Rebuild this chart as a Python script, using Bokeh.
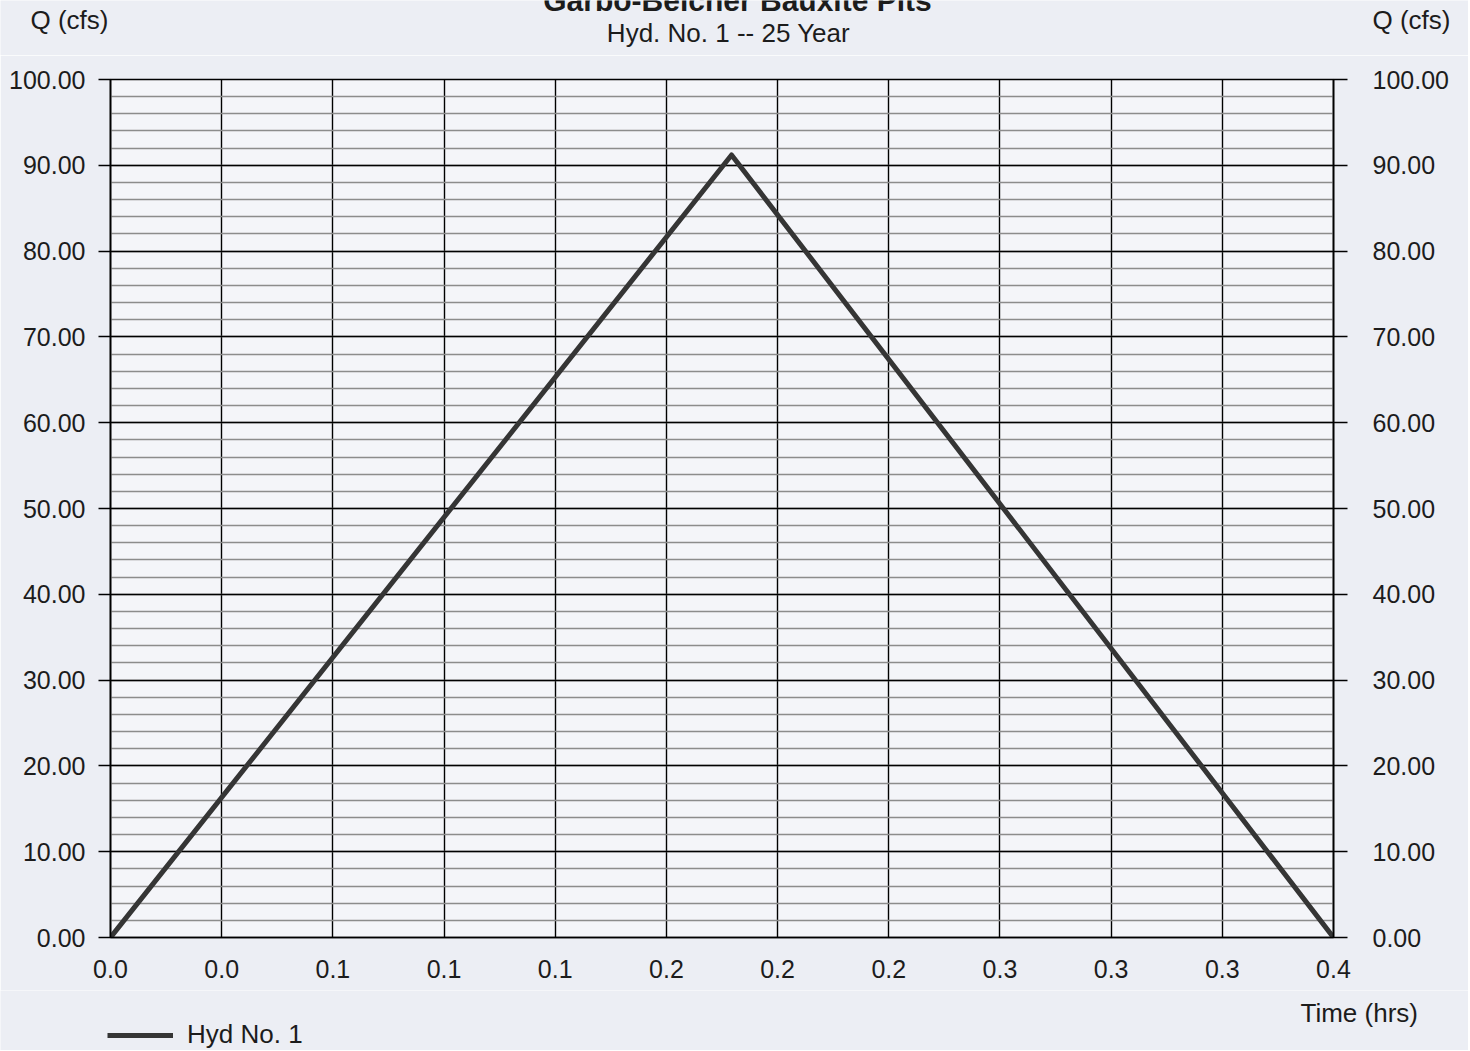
from bokeh.plotting import figure
from bokeh.layouts import column
from bokeh.models import (Range1d, LinearAxis, FixedTicker, Label, Legend, LegendItem,
                          PrintfTickFormatter, CustomJSTickFormatter)
from bokeh.embed import file_html
from bokeh.resources import INLINE

# ---- data ----
title_text = "Garbo-Belcher Bauxite Pits"
subtitle_text = "Hyd. No. 1 -- 25 Year"
series_name = "Hyd No. 1"
y_axis_title = "Q (cfs)"
x_axis_title = "Time (hrs)"

time_hrs = [0.0, 0.1862, 0.36667]
q_cfs = [0.0, 91.2, 0.0]

x_ticks = [0.0, 0.03333, 0.06667, 0.1, 0.13333, 0.16667, 0.2, 0.23333, 0.26667, 0.3, 0.33333, 0.36667]
x_tick_labels = ["0.0", "0.0", "0.1", "0.1", "0.1", "0.2", "0.2", "0.2", "0.3", "0.3", "0.3", "0.4"]
y_ticks = [0, 10, 20, 30, 40, 50, 60, 70, 80, 90, 100]
y_minor_ticks = [0, 2, 4, 6, 8, 10, 12, 14, 16, 18, 20, 22, 24, 26, 28, 30, 32, 34, 36, 38, 40,
                 42, 44, 46, 48, 50, 52, 54, 56, 58, 60, 62, 64, 66, 68, 70, 72, 74, 76, 78, 80,
                 82, 84, 86, 88, 90, 92, 94, 96, 98, 100]

FONT = "Liberation Sans"
TXT = "#1c1c1c"
FS = "25px"
PAPER = "#eceef4"
W = 1468
H_TOP, H_MAIN, H_BOT = 55, 935, 60


def strip(height):
    f = figure(width=W, height=height, output_backend="svg", toolbar_location=None, title=None,
               x_range=Range1d(0, W), y_range=Range1d(height, 0), min_border=0,
               x_axis_location=None, y_axis_location=None, frame_align=False)
    f.background_fill_color = PAPER
    f.border_fill_color = PAPER
    f.outline_line_color = None
    f.grid.visible = False
    return f


def lab(f, text, x, y, align, size="26px", style="normal"):
    f.add_layout(Label(x=x, y=y, text=text, text_align=align, text_baseline="alphabetic",
                       text_font=FONT, text_font_size=size, text_font_style=style,
                       text_color=TXT))


# ---- header strip ----
top = strip(H_TOP)
lab(top, title_text, 737, 0, "center", "30px", "bold")
lab(top, subtitle_text, 728, 32, "center")
lab(top, y_axis_title, 30, 19, "left")
lab(top, y_axis_title, 1372, 19, "left")

# ---- main chart ----
p = figure(width=W, height=H_MAIN, output_backend="svg", toolbar_location=None, title=None,
           x_range=Range1d(x_ticks[0], x_ticks[-1]), y_range=Range1d(y_ticks[0], y_ticks[-1]),
           min_border_left=110, min_border_right=W - 1333, min_border_top=79 - H_TOP,
           min_border_bottom=H_TOP + H_MAIN - 937,
           x_axis_location=None, y_axis_location=None, frame_align=False)
p.background_fill_color = "#f4f5f9"
p.border_fill_color = PAPER
p.outline_line_color = "black"
p.outline_line_width = 1.6

xax = LinearAxis(ticker=FixedTicker(ticks=x_ticks, minor_ticks=[]),
                 formatter=CustomJSTickFormatter(args=dict(labels=x_tick_labels),
                                                 code="return labels[index]"))
xax.major_tick_out = 0
xax.major_tick_in = 0
xax.minor_tick_line_color = None
xax.axis_line_color = "black"
xax.axis_line_width = 1.6
xax.major_label_standoff = 22
xax.major_label_text_font = FONT
xax.major_label_text_font_size = FS
xax.major_label_text_color = TXT
p.add_layout(xax, "below")


def yaxis(side, tick_out, standoff):
    ax = LinearAxis(ticker=FixedTicker(ticks=y_ticks, minor_ticks=y_minor_ticks),
                    formatter=PrintfTickFormatter(format="%.2f"))
    ax.major_tick_out = tick_out
    ax.major_tick_in = 0
    ax.major_tick_line_color = "black"
    ax.major_tick_line_width = 1.6
    ax.minor_tick_line_color = None
    ax.axis_line_color = "black"
    ax.axis_line_width = 1.6
    ax.major_label_standoff = standoff
    ax.major_label_text_font = FONT
    ax.major_label_text_font_size = FS
    ax.major_label_text_color = TXT
    p.add_layout(ax, side)
    return ax


yaxis("left", 12, 13)
yaxis("right", 14, 25)

p.xgrid.ticker = FixedTicker(ticks=x_ticks)
p.xgrid.grid_line_color = "black"
p.xgrid.grid_line_width = 1.4
p.ygrid.ticker = FixedTicker(ticks=y_ticks, minor_ticks=y_minor_ticks)
p.ygrid.grid_line_color = "black"
p.ygrid.grid_line_width = 1.4
p.ygrid.minor_grid_line_color = "#8c8c8c"
p.ygrid.minor_grid_line_width = 1.6

LINE = dict(line_color="#353535", line_width=5, line_join="round")
r = p.line(time_hrs, q_cfs, **LINE)

# ---- footer strip: axis title and legend ----
bot = strip(H_BOT)
lab(bot, x_axis_title, 1300, 22, "left")
# legend key: a one-point line (draws nothing itself) that carries the series style
key = bot.line(time_hrs[:1], q_cfs[:1], **LINE)
legend = Legend(items=[LegendItem(label=series_name, renderers=[key])], location=(107, 0),
                padding=0, margin=0, spacing=0, glyph_width=66, glyph_height=18,
                label_height=18, label_standoff=14, border_line_color=None,
                background_fill_alpha=0, label_text_font=FONT, label_text_font_size="26px",
                label_text_color=TXT)
bot.add_layout(legend, "center")

layout = column(top, p, bot, spacing=0)
open("out.html", "w").write(file_html(layout, INLINE))
